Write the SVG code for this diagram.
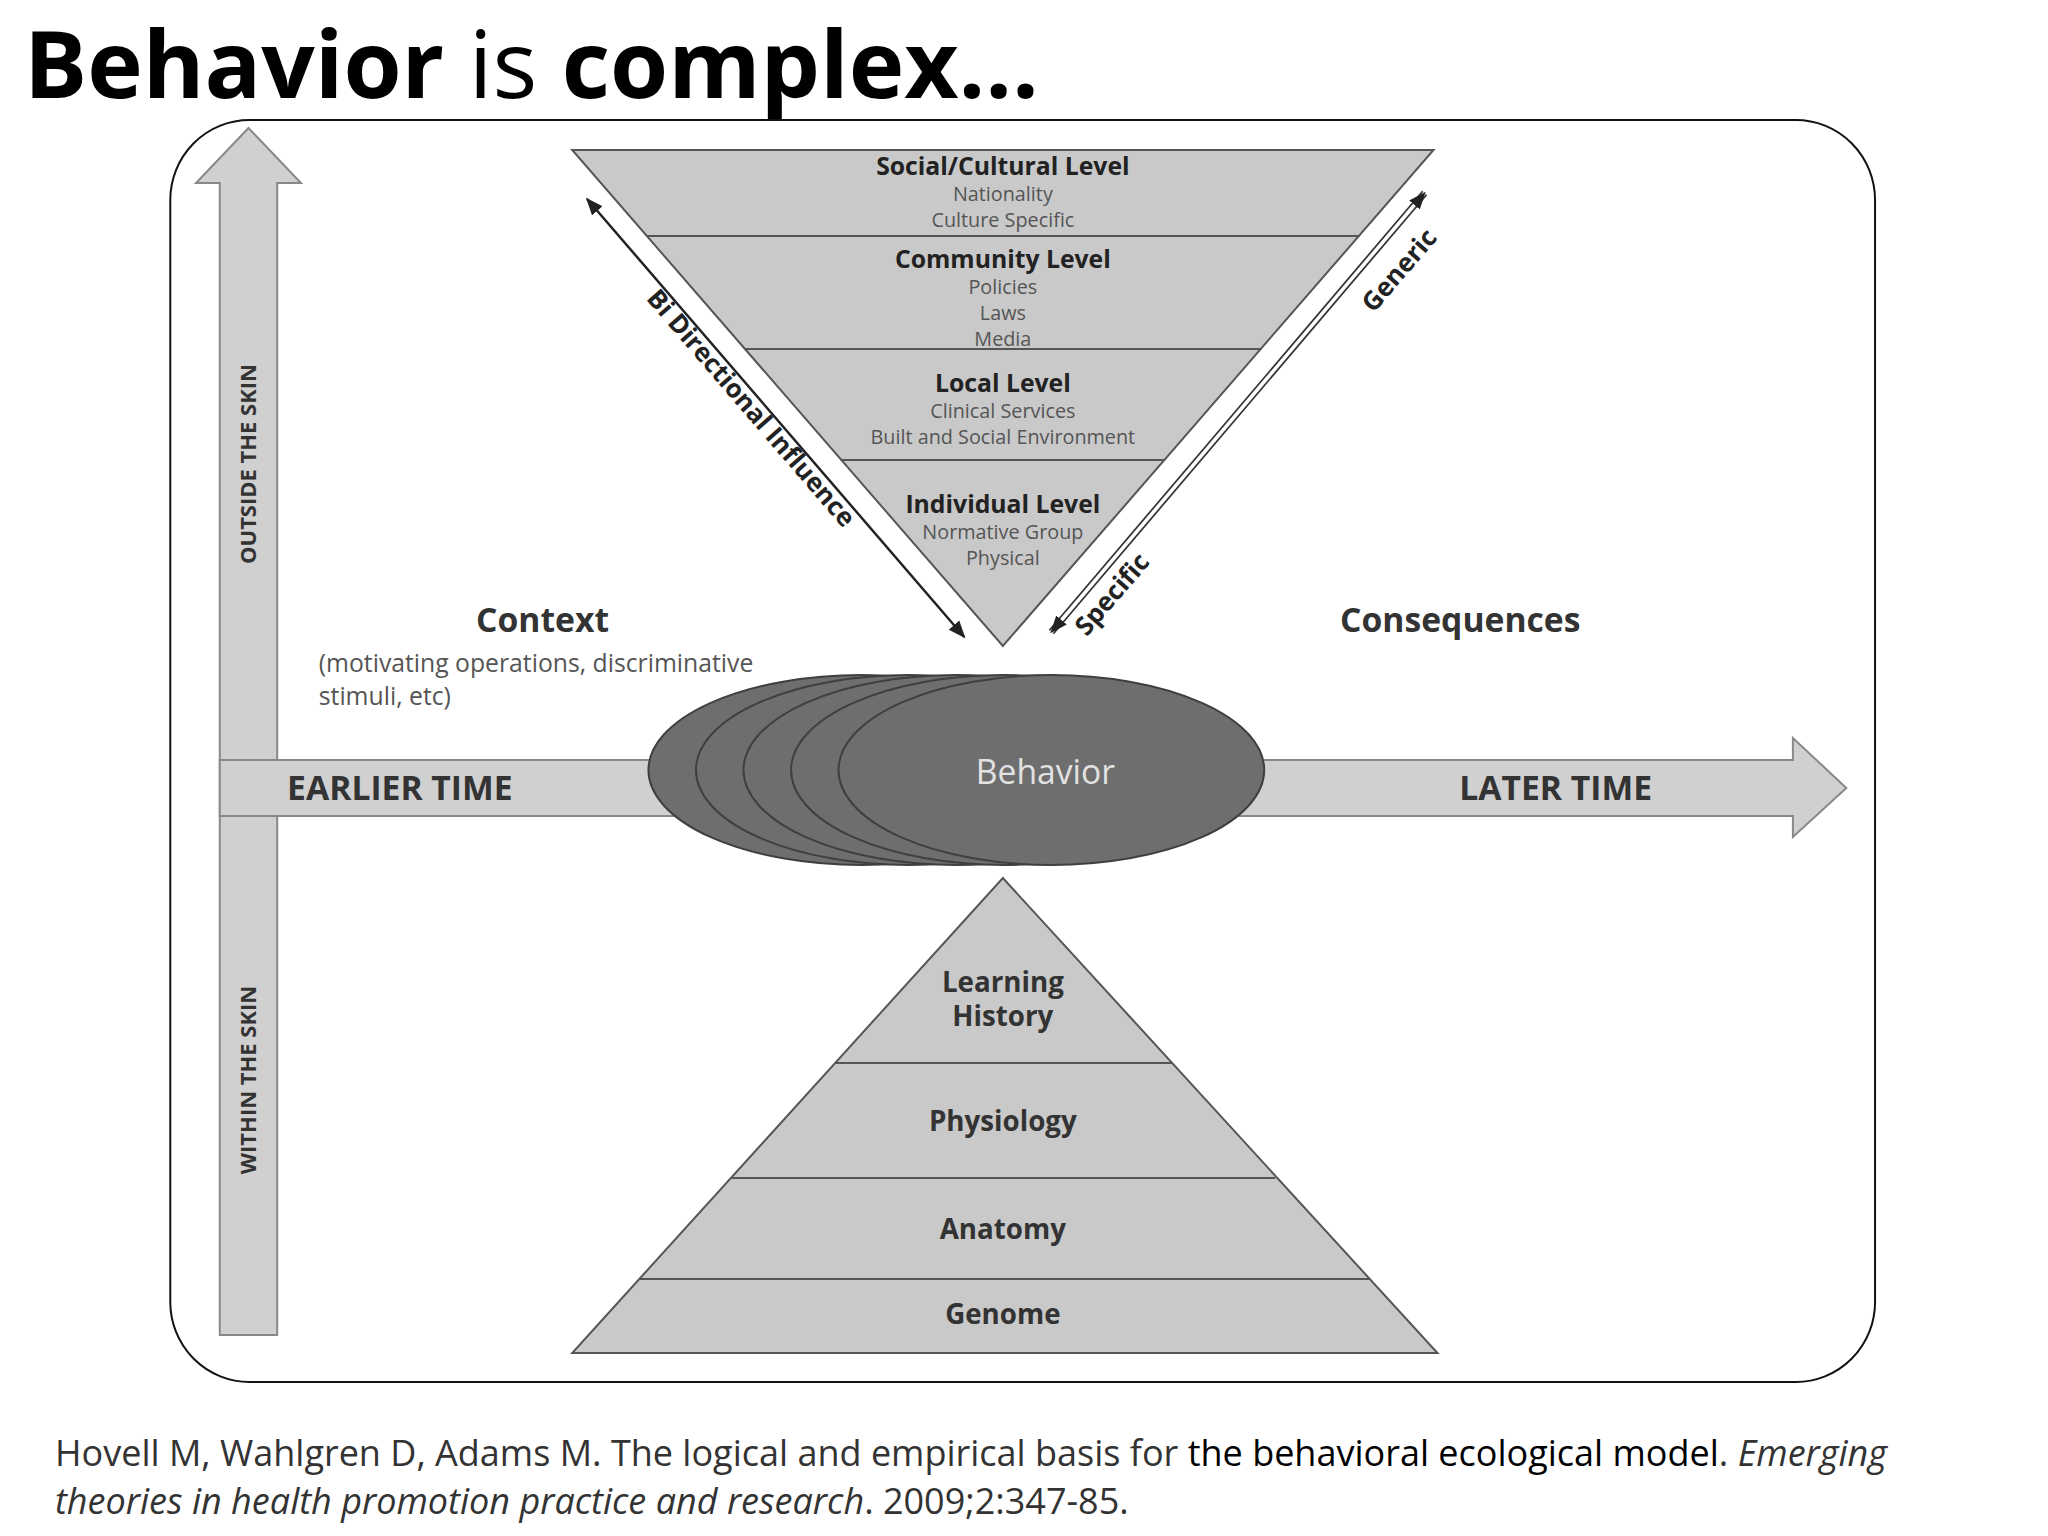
<svg xmlns="http://www.w3.org/2000/svg" width="2048" height="1536" viewBox="0 0 2048 1536">
<defs>
<style>
.t{font-family:"Open Sans","Noto Sans",sans-serif;fill:#333}
.b{font-weight:bold}
.h{font-size:25px;font-weight:bold;text-anchor:middle;fill:#222}
.s{font-size:20px;text-anchor:middle;fill:#555}
.p{font-size:28px;font-weight:bold;text-anchor:middle;fill:#333}
.tri{fill:#c9c9c9;stroke:#555;stroke-width:2}
.div{stroke:#555;stroke-width:2}
.arr{fill:#d0d0d0;stroke:#888;stroke-width:2}
.ell{fill:#6e6e6e;stroke:#3f3f3f;stroke-width:2}
</style>
<marker id="ah" viewBox="0 0 10 10" refX="9" refY="5" markerWidth="7" markerHeight="7" orient="auto-start-reverse"><path d="M0,1 L10,5 L0,9 z" fill="#222"/></marker>
</defs>
<rect width="2048" height="1536" fill="#fff"/>
<text x="24" y="98" font-family="'Open Sans','Noto Sans',sans-serif" font-size="94" fill="#000"><tspan font-weight="bold">Behavior</tspan> is <tspan font-weight="bold">complex…</tspan></text>
<g transform="scale(0.99,1)">
<rect id="frame" x="172" y="120" width="1722" height="1262" rx="80" fill="none" stroke="#111" stroke-width="2"/>
<g id="vertical-arrow"><path class="arr" d="M222,1335 L222,183 L198,183 L251,128 L304,183 L280,183 L280,1335 Z"/>
<text class="t b" font-size="22" transform="translate(259,464) rotate(-90)" text-anchor="middle">OUTSIDE THE SKIN</text>
<text class="t b" font-size="22" transform="translate(259,1080) rotate(-90)" text-anchor="middle">WITHIN THE SKIN</text></g>
<g id="time-arrow"><path class="arr" d="M222,760 L1811,760 L1811,738 L1865,788 L1811,837 L1811,816 L222,816 Z"/>
<text class="t b" x="290" y="800" font-size="34">EARLIER TIME</text>
<text class="t b" x="1474" y="800" font-size="34">LATER TIME</text></g>
<g id="levels">
<path class="tri" d="M578,150 L1448,150 L1013,646 Z"/>
<line class="div" x1="653" y1="236" x2="1373" y2="236"/>
<line class="div" x1="752" y1="349" x2="1274" y2="349"/>
<line class="div" x1="849" y1="460" x2="1177" y2="460"/>
<text class="t h" x="1013" y="175">Social/Cultural Level</text>
<text class="t s" x="1013" y="201">Nationality</text>
<text class="t s" x="1013" y="227">Culture Specific</text>
<text class="t h" x="1013" y="268">Community Level</text>
<text class="t s" x="1013" y="294">Policies</text>
<text class="t s" x="1013" y="320">Laws</text>
<text class="t s" x="1013" y="346">Media</text>
<text class="t h" x="1013" y="392">Local Level</text>
<text class="t s" x="1013" y="418">Clinical Services</text>
<text class="t s" x="1013" y="444">Built and Social Environment</text>
<text class="t h" x="1013" y="513">Individual Level</text>
<text class="t s" x="1013" y="539">Normative Group</text>
<text class="t s" x="1013" y="565">Physical</text>
</g>
<g id="connectors">
<line x1="593" y1="199" x2="974" y2="637" stroke="#222" stroke-width="2.5" marker-start="url(#ah)" marker-end="url(#ah)"/>
<line x1="1062" y1="632" x2="1439" y2="193" stroke="#333" stroke-width="7"/>
<line x1="1062" y1="632" x2="1439" y2="193" stroke="#fff" stroke-width="3.5"/>
<line x1="1062" y1="632" x2="1439" y2="193" stroke="none" stroke-width="2.5" marker-start="url(#ah)" marker-end="url(#ah)"/>
<text class="t b" font-size="26" style="fill:#222" transform="translate(752,414) rotate(49)" text-anchor="middle">Bi Directional Influence</text>
<text class="t b" font-size="26" style="fill:#222" transform="translate(1420,276) rotate(-49)" text-anchor="middle">Generic</text>
<text class="t b" font-size="26" style="fill:#222" transform="translate(1130,600) rotate(-49)" text-anchor="middle">Specific</text>
</g>
<g id="context"><text class="t b" x="548" y="632" font-size="34" text-anchor="middle">Context</text>
<text class="t" x="322" y="672" font-size="25" style="fill:#555">(motivating operations, discriminative</text>
<text class="t" x="322" y="705" font-size="25" style="fill:#555">stimuli, etc)</text></g>
<g id="consequences"><text class="t b" x="1475" y="632" font-size="34" text-anchor="middle">Consequences</text></g>
<g id="behavior">
<ellipse class="ell" cx="870" cy="770" rx="215" ry="95"/>
<ellipse class="ell" cx="918" cy="770" rx="215" ry="95"/>
<ellipse class="ell" cx="966" cy="770" rx="215" ry="95"/>
<ellipse class="ell" cx="1014" cy="770" rx="215" ry="95"/>
<ellipse class="ell" cx="1062" cy="770" rx="215" ry="95"/>
<text class="t" x="1056" y="784" font-size="34" text-anchor="middle" style="fill:#e2e2e2">Behavior</text>
</g>
<g id="pyramid">
<path class="tri" d="M1013,878 L1452,1353 L578,1353 Z"/>
<line class="div" x1="844" y1="1063" x2="1184" y2="1063"/>
<line class="div" x1="739" y1="1178" x2="1288" y2="1178"/>
<line class="div" x1="646" y1="1279" x2="1383" y2="1279"/>
<text class="t p" x="1013" y="992">Learning</text>
<text class="t p" x="1013" y="1026">History</text>
<text class="t p" x="1013" y="1131">Physiology</text>
<text class="t p" x="1013" y="1239">Anatomy</text>
<text class="t p" x="1013" y="1324">Genome</text>
</g>
</g>
<text x="55" y="1466" font-family="'Open Sans','Noto Sans',sans-serif" font-size="36" fill="#333">Hovell M, Wahlgren D, Adams M. The logical and empirical basis for <tspan fill="#000">the behavioral ecological model</tspan>. <tspan font-style="italic">Emerging</tspan></text>
<text x="55" y="1514" font-family="'Open Sans','Noto Sans',sans-serif" font-size="36" fill="#333"><tspan font-style="italic">theories in health promotion practice and research</tspan>. 2009;2:347-85.</text>
</svg>
